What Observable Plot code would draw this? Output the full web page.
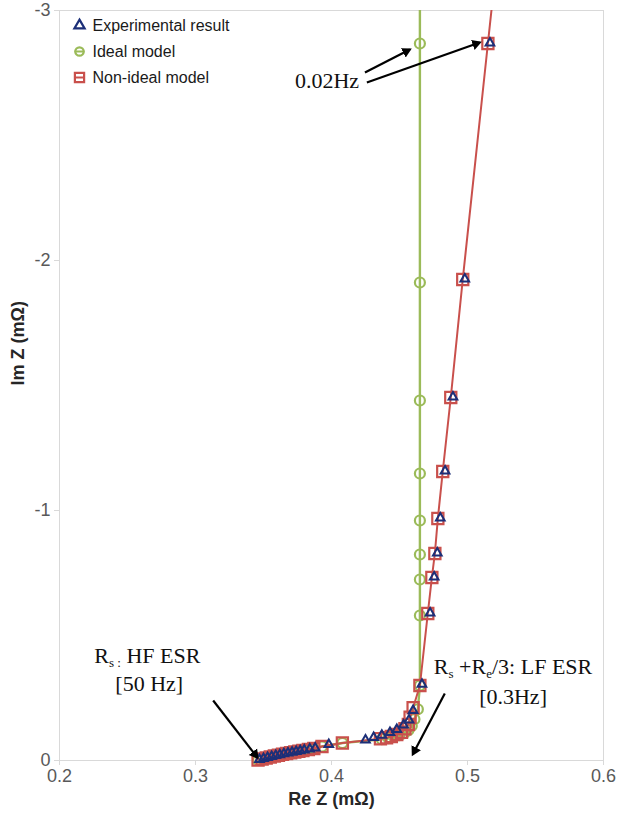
<!DOCTYPE html>
<html>
<head>
<meta charset="utf-8">
<script src="https://cdn.jsdelivr.net/npm/d3@7"></script>
<script src="https://cdn.jsdelivr.net/npm/@observablehq/plot@0.6"></script>
<style>
  html, body { margin: 0; padding: 0; background: #fff; }
  #chart { width: 618px; height: 819px; }
</style>
</head>
<body>
<div id="chart"></div>
<script>
// ---------- data ----------
const xTicks = [0.2, 0.3, 0.4, 0.5, 0.6];
const xTickLabels = ["0.2", "0.3", "0.4", "0.5", "0.6"];
const yTicks = [0, -1, -2, -3];
const yTickLabels = ["0", "-1", "-2", "-3"];

const seriesNames = ["Experimental result", "Ideal model", "Non-ideal model"];

// Experimental result (triangles, no line)
const expRe = [0.347,0.350,0.353,0.356,0.359,0.362,0.365,0.368,0.371,0.374,0.377,0.380,0.384,0.388,0.398,0.425,0.431,0.437,0.443,0.448,0.453,0.457,0.460,0.4665,0.4725,0.4755,0.4778,0.480,0.4835,0.4893,0.498,0.5165];
const expIm = [-0.004,-0.008,-0.012,-0.016,-0.020,-0.023,-0.027,-0.030,-0.033,-0.036,-0.039,-0.042,-0.046,-0.050,-0.064,-0.082,-0.092,-0.101,-0.112,-0.124,-0.142,-0.162,-0.200,-0.305,-0.590,-0.734,-0.830,-0.970,-1.158,-1.454,-1.926,-2.870];

// Ideal model (circles + line)
const idealRe = [0.346,0.349,0.352,0.355,0.358,0.361,0.364,0.367,0.370,0.373,0.376,0.379,0.383,0.387,0.393,0.408,0.437,0.442,0.446,0.450,0.4535,0.4565,0.459,0.461,0.4635,0.465,0.465,0.465,0.465,0.465,0.465,0.465,0.465,0.465];
const idealIm = [-0.002,-0.006,-0.010,-0.014,-0.018,-0.021,-0.025,-0.028,-0.031,-0.034,-0.037,-0.040,-0.044,-0.048,-0.056,-0.070,-0.085,-0.089,-0.094,-0.101,-0.109,-0.121,-0.138,-0.165,-0.205,-0.300,-0.580,-0.724,-0.824,-0.960,-1.148,-1.440,-1.912,-2.868];
// the ideal-model line continues past the top of the axis
const idealExtRe = [0.465];
const idealExtIm = [-3.3];

// Non-ideal model (squares + line)
const nonIdealRe = [0.346,0.349,0.352,0.355,0.358,0.361,0.364,0.367,0.370,0.373,0.376,0.379,0.383,0.387,0.393,0.408,0.436,0.4405,0.444,0.448,0.4515,0.454,0.4565,0.4578,0.460,0.465,0.4708,0.4738,0.476,0.4782,0.4818,0.4877,0.4965,0.515];
const nonIdealIm = [-0.002,-0.006,-0.010,-0.014,-0.018,-0.021,-0.025,-0.028,-0.031,-0.034,-0.037,-0.040,-0.044,-0.048,-0.056,-0.070,-0.087,-0.091,-0.096,-0.104,-0.113,-0.127,-0.144,-0.173,-0.211,-0.300,-0.588,-0.732,-0.828,-0.968,-1.156,-1.452,-1.924,-2.868];
const nonIdealExtRe = [0.5235];
const nonIdealExtIm = [-3.3];

// annotations (data units)
const noteParts = [
  [["0.02Hz", 0]],
  [["R", 0], ["s :", 1], [" HF ESR", 0]],
  [["[50 Hz]", 0]],
  [["R", 0], ["s", 1], [" +R", 0], ["e", 1], ["/3: LF ESR", 0]],
  [["[0.3Hz]", 0]]
];
const noteRe = [0.3967, 0.2646, 0.2660, 0.5335, 0.5335];
const noteIm = [-2.72, -0.42, -0.305, -0.375, -0.256];

const arrowRe1 = [0.4246, 0.4260, 0.3130, 0.4833];
const arrowIm1 = [-2.752, -2.712, -0.240, -0.268];
const arrowRe2 = [0.4576, 0.5090, 0.3455, 0.4598];
const arrowIm2 = [-2.844, -2.872, -0.012, -0.025];

// ---------- build tables ----------
const zip = (xs, ys) => xs.map((x, i) => ({x, y: ys[i]}));
const experimental = zip(expRe, expIm);
const ideal = zip(idealRe, idealIm);
const nonIdeal = zip(nonIdealRe, nonIdealIm);
const idealLine = ideal.concat(zip(idealExtRe, idealExtIm));
const nonIdealLine = nonIdeal.concat(zip(nonIdealExtRe, nonIdealExtIm));
const notes = noteParts.map((p, i) => ({text: p.map(d => d[0]).join(""), x: noteRe[i], y: noteIm[i]}));
const arrows = arrowRe1.map((x1, i) => ({x1, y1: arrowIm1[i], x2: arrowRe2[i], y2: arrowIm2[i]}));

const BLUE = "#1c2f78", GREEN = "#9bbb59", RED = "#c9504c";
const hline = {draw(ctx, size) { const r = Math.sqrt(size / Math.PI); ctx.moveTo(-r, 0); ctx.lineTo(r, 0); }};

const legendSpec = [
  {symbol: "triangle", color: BLUE, r: 3.8, line: false},
  {symbol: "circle", color: GREEN, r: 4.2, line: true},
  {symbol: "square", color: RED, r: 5.2, line: true}
];
const legendDy = [15, 41, 67];
const legendMarks = [];
seriesNames.forEach((name, i) => {
  const s = legendSpec[i];
  if (s.line) legendMarks.push(Plot.dot([name], {frameAnchor: "top-left", dx: 20, dy: legendDy[i], symbol: hline, r: 5, stroke: s.color, strokeWidth: 2}));
  legendMarks.push(Plot.dot([name], {frameAnchor: "top-left", dx: 20, dy: legendDy[i], symbol: s.symbol, r: s.r, stroke: s.color, strokeWidth: 2.2}));
  legendMarks.push(Plot.text([name], {frameAnchor: "top-left", dx: 33, dy: legendDy[i], textAnchor: "start", lineAnchor: "middle", fontSize: 16, fill: "#1a1a1a"}));
});

const fmtX = d => xTickLabels[xTicks.indexOf(d)];
const fmtY = d => yTickLabels[yTicks.indexOf(d)];

const chart = Plot.plot({
  width: 618,
  height: 819,
  marginLeft: 59,
  marginRight: 15,
  marginTop: 10,
  marginBottom: 59,
  style: {fontFamily: "'Liberation Sans', Arial, sans-serif", fontSize: "18px", color: "#595959", background: "#ffffff"},
  x: {domain: [0.2, 0.6], label: null},
  y: {domain: [0, -3], label: null},
  marks: [
    Plot.frame({stroke: "#d9d9d9", strokeWidth: 1}),
    Plot.axisX({ticks: xTicks, tickFormat: fmtX, tickSize: 5, tickPadding: 4, stroke: "#d9d9d9", fill: "#595959", fontSize: 18, label: null}),
    Plot.axisY({ticks: yTicks, tickFormat: fmtY, tickSize: 5, tickPadding: 4, stroke: "#d9d9d9", fill: "#595959", fontSize: 18, label: null}),
    Plot.text(["Re Z (mΩ)"], {frameAnchor: "bottom", dy: 44, fontSize: 18, fontWeight: "bold", fill: "#262626"}),
    Plot.text(["Im Z (mΩ)"], {frameAnchor: "left", dx: -41, rotate: -90, fontSize: 18, fontWeight: "bold", fill: "#262626"}),
    // ideal model
    Plot.line(idealLine, {x: "x", y: "y", stroke: GREEN, strokeWidth: 2.4, clip: true}),
    Plot.dot(ideal, {x: "x", y: "y", symbol: "circle", r: 5, stroke: GREEN, strokeWidth: 2.2}),
    // non-ideal model
    Plot.line(nonIdealLine, {x: "x", y: "y", stroke: RED, strokeWidth: 2, clip: true}),
    Plot.dot(nonIdeal, {x: "x", y: "y", symbol: "square", r: 6.3, stroke: RED, strokeWidth: 2.2}),
    // experimental
    Plot.dot(experimental, {x: "x", y: "y", symbol: "triangle", r: 3.2, stroke: BLUE, strokeWidth: 2}),
    // annotations
    Plot.link(arrows, {x1: "x1", y1: "y1", x2: "x2", y2: "y2", stroke: "#000", strokeWidth: 2.2, markerEnd: "arrow"}),
    Plot.text(notes, {x: "x", y: "y", text: "text", fontFamily: "'Liberation Serif', 'Times New Roman', serif", fontSize: 22, fill: "#111"}),
    ...legendMarks
  ]
});

document.getElementById("chart").appendChild(chart);

// filled arrow heads
chart.querySelectorAll("marker path").forEach(p => {
  p.setAttribute("d", "M-5,-3.6L1.5,0L-5,3.6Z");
  p.setAttribute("fill", "#000");
  p.setAttribute("stroke", "none");
});

// subscripts in annotation texts
const partsByText = new Map(noteParts.map(p => [p.map(d => d[0]).join(""), p]));
d3.select(chart).selectAll("text").each(function () {
  const parts = partsByText.get(this.textContent);
  if (!parts || parts.length < 2) return;
  const sel = d3.select(this);
  sel.text(null);
  let prevSub = false;
  for (const [s, sub] of parts) {
    const ts = sel.append("tspan").text(s);
    if (sub) ts.attr("font-size", 13);
    if (sub && !prevSub) ts.attr("dy", 4);
    if (!sub && prevSub) ts.attr("dy", -4);
    prevSub = !!sub;
  }
});
</script>
</body>
</html>
